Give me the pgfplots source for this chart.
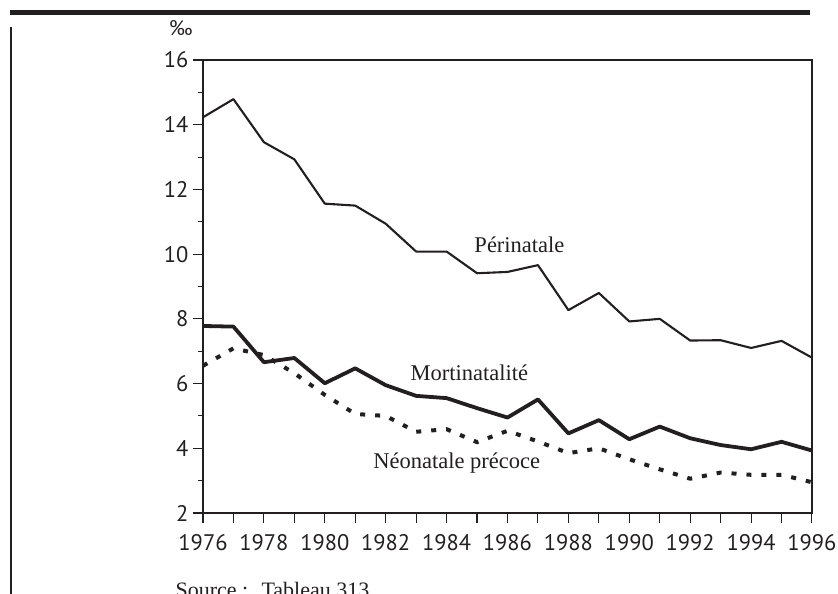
\documentclass[border=0pt]{standalone}
\usepackage{fontspec}
\setmainfont{Liberation Serif}
\newfontfamily\tickfont{PT Sans}
\usepackage{pgfplots}
\pgfplotsset{compat=1.18}
\definecolor{ink}{HTML}{231F20}

\pgfplotstableread{
year peri
1976 14.23
1977 14.79
1978 13.46
1979 12.93
1980 11.56
1981 11.50
1982 10.94
1983 10.08
1984 10.08
1985 9.41
1986 9.45
1987 9.66
1988 8.27
1989 8.80
1990 7.92
1991 8.00
1992 7.33
1993 7.34
1994 7.10
1995 7.32
1996 6.80
}\peri

\pgfplotstableread{
year mort
1976 7.78
1977 7.76
1978 6.66
1979 6.79
1980 6.01
1981 6.47
1982 5.95
1983 5.62
1984 5.55
1985 5.24
1986 4.95
1987 5.51
1988 4.46
1989 4.87
1990 4.28
1991 4.67
1992 4.31
1993 4.10
1994 3.97
1995 4.20
1996 3.93
}\mort

\pgfplotstableread{
year neo
1976 6.55
1977 7.09
1978 6.88
1979 6.32
1980 5.65
1981 5.06
1982 5.00
1983 4.51
1984 4.59
1985 4.19
1986 4.54
1987 4.21
1988 3.85
1989 4.00
1990 3.66
1991 3.35
1992 3.06
1993 3.25
1994 3.18
1995 3.18
1996 2.95
}\neo

\begin{document}
\begin{tikzpicture}[x=1pt,y=1pt]
\useasboundingbox (0,0) rectangle (838,594);
\fill[ink] (10,579) rectangle (810,584);
\draw[ink,line width=1.2pt] (11,567) -- (11,0);
\node[font=\tickfont\fontsize{21}{24}\selectfont,text=ink] at (181,566) {‰};
\node[anchor=base west,font=\fontsize{22}{26}\selectfont,text=ink] at (172,-4) {Source :};
\node[anchor=base west,font=\fontsize{22}{26}\selectfont,text=ink] at (258,-4) {Tableau 313};
\begin{axis}[
  at={(203pt,81pt)}, anchor=south west,
  width=609pt, height=453pt, scale only axis,
  xmin=1976, xmax=1996, ymin=2, ymax=16,
  xtick={1976,1977,...,1996},
  xticklabels={1976,,1978,,1980,,1982,,1984,,1986,,1988,,1990,,1992,,1994,,1996},
  ytick={2,4,...,16},
  minor ytick={3,5,...,15},
  tick pos=left,
  tick align=outside,
  major tick length=10pt,
  minor tick length=5pt,
  axis line style={ink,line width=1.2pt},
  every tick/.style={ink,line width=1.1pt},
  every minor tick/.style={ink,line width=1.1pt},
  /pgf/number format/assume math mode=true,
  ticklabel style={font=\tickfont\fontsize{22.5}{25}\selectfont,text=ink},
  xticklabel style={yshift=-8pt},
  yticklabel style={xshift=-1pt},
  clip=false,
]
\addplot[ink,line width=2.1pt,line join=round] table[x=year,y=peri]{\peri};
\addplot[ink,line width=3.8pt,line join=round] table[x=year,y=mort]{\mort};
\addplot[ink,line width=4pt,dash pattern=on 5pt off 10pt] table[x=year,y=neo]{\neo};
\node[anchor=base west,font=\fontsize{22.5}{26}\selectfont,text=ink] at (axis cs:1984.8,10.04) {Périnatale};
\node[anchor=base west,font=\fontsize{22.5}{26}\selectfont,text=ink] at (axis cs:1982.7,6.11) {Mortinatalité};
\node[anchor=base west,font=\fontsize{22.5}{26}\selectfont,text=ink] at (axis cs:1981.48,3.39) {Néonatale précoce};
\end{axis}
\end{tikzpicture}
\end{document}
